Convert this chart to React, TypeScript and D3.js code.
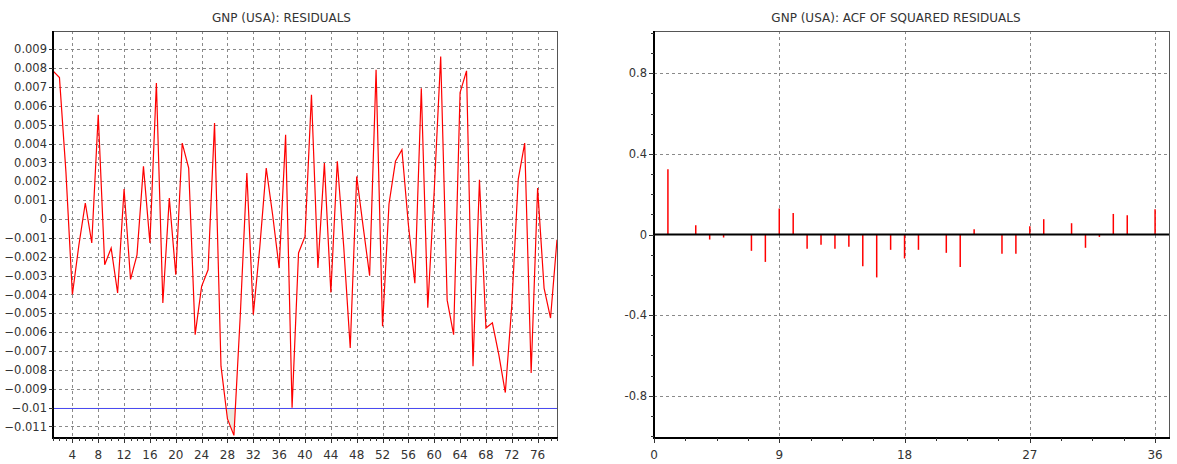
import React from 'react';
import * as d3 from 'd3';

// residuals, in units of 0.001, observations 1..79
const residuals = [
  7.86, 7.5, 2.5, -4.0, -1.4, 0.85, -1.27, 5.53, -2.42, -1.54,
  -3.92, 1.59, -3.2, -1.9, 2.79, -1.27, 7.21, -4.45, 1.11, -2.95,
  4.03, 2.7, -6.13, -3.57, -2.69, 5.09, -7.8, -10.6, -11.47, -5.0,
  2.44, -5.07, -1.5, 2.7, 0.2, -2.6, 4.47, -10.0, -1.8, -0.92,
  6.59, -2.6, 2.97, -3.9, 3.06, -1.5, -6.84, 2.26, -0.4, -3.0,
  7.92, -5.69, 0.8, 3.06, 3.67, -0.3, -3.4, 6.94, -4.7, 1.5,
  8.62, -4.3, -6.13, 6.7, 7.86, -7.8, 2.08, -5.78, -5.5, -7.2,
  -9.2, -4.6, 2.1, 4.03, -8.16, 1.64, -3.66, -5.25, -1.1,
];
const threshold = -0.01;

// ACF of squared residuals, lags 1..36
const acfValues = [
  0.324, 0, 0.046, -0.025, -0.015, 0, -0.081, -0.136, 0.129, 0.107,
  -0.071, -0.051, -0.071, -0.061, -0.157, -0.213, -0.076, -0.119, -0.076, 0,
  -0.091, -0.161, 0.026, 0, -0.096, -0.096, 0.041, 0.076, 0, 0.056,
  -0.066, -0.012, 0.102, 0.096, 0, 0.125,
];

const residTicksY = d3.range(-11, 10).map((d) => d / 1000);
const residTicksX = d3.range(4, 80, 4);
const acfTicksY = [-0.8, -0.4, 0, 0.4, 0.8];
const acfTicksX = [0, 9, 18, 27, 36];

const font = "'DejaVu Sans', sans-serif";
const gridColor = '#8a8a8a';
const textColor = '#333';

const fmtResid = (d: number) => (d === 0 ? '0' : d3.format('.3~f')(d));

function ResidualPanel() {
  const left = 53, right = 557, top = 31, bottom = 438;
  const data = residuals.map((v, i) => ({ t: i + 1, v: v / 1000 }));
  const x = d3.scaleLinear().domain([1, 79]).range([left, right]);
  const y = d3.scaleLinear().domain([-0.01161, 0.00997]).range([bottom, top]);

  const line = d3.line<{ t: number; v: number }>().x((d) => x(d.t)).y((d) => y(d.v));
  const area = d3
    .area<{ t: number; v: number }>()
    .x((d) => x(d.t))
    .y0(y(threshold))
    .y1((d) => y(d.v));
  const minor = d3.range(1, 80);

  return (
    <g>
      <text x={281.5} y={21.5} textAnchor="middle" fontSize={12} fill={textColor} fontFamily={font}>
        GNP (USA): RESIDUALS
      </text>
      <defs>
        <clipPath id="below">
          <rect x={left} y={y(threshold)} width={right - left} height={bottom - y(threshold)} />
        </clipPath>
        <clipPath id="plotL">
          <rect x={left} y={top} width={right - left} height={bottom - top} />
        </clipPath>
      </defs>
      {residTicksY.map((t) => (
        <line key={'gy' + t} x1={left} x2={right} y1={Math.round(y(t)) + 0.5} y2={Math.round(y(t)) + 0.5}
          stroke={gridColor} strokeDasharray="3,3" />
      ))}
      {residTicksX.map((t) => (
        <line key={'gx' + t} x1={Math.round(x(t)) + 0.5} x2={Math.round(x(t)) + 0.5} y1={top} y2={bottom}
          stroke={gridColor} strokeDasharray="3,3" />
      ))}
      <path d={area(data) || ''} fill="#ebe8dc" clipPath="url(#below)" />
      <line x1={left} x2={right} y1={Math.round(y(threshold)) + 0.5} y2={Math.round(y(threshold)) + 0.5}
        stroke="#4a4af0" strokeWidth={1.2} />
      <path d={line(data) || ''} fill="none" stroke="#ff0000" strokeWidth={1.2} clipPath="url(#plotL)" />
      {/* frame */}
      <line x1={left} x2={right} y1={top + 0.5} y2={top + 0.5} stroke="#555" />
      <line x1={right + 0.5} x2={right + 0.5} y1={top} y2={bottom} stroke="#555" />
      <line x1={left} x2={left} y1={top} y2={bottom + 1} stroke="#000" strokeWidth={2} />
      <line x1={left - 1} x2={right + 1} y1={bottom} y2={bottom} stroke="#000" strokeWidth={2} />
      {residTicksY.map((t) => (
        <g key={'ty' + t}>
          <line x1={left - 4} x2={left} y1={Math.round(y(t)) + 0.5} y2={Math.round(y(t)) + 0.5} stroke="#333" />
          <text x={47} y={y(t)} dy="0.36em" textAnchor="end" fontSize={11.5} fill={textColor} fontFamily={font}>
            {fmtResid(t)}
          </text>
        </g>
      ))}
      {minor.map((t) => (
        <line key={'mx' + t} x1={Math.round(x(t)) + 0.5} x2={Math.round(x(t)) + 0.5} y1={bottom}
          y2={bottom + (t % 4 === 0 ? 5 : 3)} stroke="#333" />
      ))}
      {residTicksX.map((t) => (
        <text key={'lx' + t} x={x(t)} y={459} textAnchor="middle" fontSize={12} fill={textColor} fontFamily={font}>
          {t}
        </text>
      ))}
    </g>
  );
}

function AcfPanel() {
  const left = 654, right = 1169, top = 31, bottom = 438;
  const x = d3.scaleLinear().domain([0, 37]).range([left, right]);
  const y = d3.scaleLinear().domain([-1.01, 1.01]).range([bottom, top]);
  const minorX = d3.range(0, 37, 2.25);
  const minorY = d3.range(-10, 11).map((d) => d / 10);

  return (
    <g>
      <text x={896} y={21.5} textAnchor="middle" fontSize={12} fill={textColor} fontFamily={font}>
        GNP (USA): ACF OF SQUARED RESIDUALS
      </text>
      {acfTicksY.filter((t) => t !== 0).map((t) => (
        <line key={'gy' + t} x1={left} x2={right} y1={Math.round(y(t)) + 0.5} y2={Math.round(y(t)) + 0.5}
          stroke={gridColor} strokeDasharray="3,3" />
      ))}
      {acfTicksX.filter((t) => t !== 0).map((t) => (
        <line key={'gx' + t} x1={Math.round(x(t)) + 0.5} x2={Math.round(x(t)) + 0.5} y1={top} y2={bottom}
          stroke={gridColor} strokeDasharray="3,3" />
      ))}
      {acfValues.map((v, i) => (
        <line key={'b' + i} x1={x(i + 1)} x2={x(i + 1)} y1={y(0)} y2={y(v)} stroke="#ff0000" strokeWidth={1.5} />
      ))}
      <line x1={left} x2={right} y1={y(0)} y2={y(0)} stroke="#000" strokeWidth={2} />
      {/* frame */}
      <line x1={left} x2={right} y1={top + 0.5} y2={top + 0.5} stroke="#555" />
      <line x1={right + 0.5} x2={right + 0.5} y1={top} y2={bottom} stroke="#555" />
      <line x1={left} x2={left} y1={top} y2={bottom + 1} stroke="#000" strokeWidth={2} />
      <line x1={left - 1} x2={right + 1} y1={bottom} y2={bottom} stroke="#000" strokeWidth={2} />
      {minorY.map((t) => (
        <line key={'my' + t} x1={left - (acfTicksY.includes(t) ? 5 : 3)} x2={left}
          y1={Math.round(y(t)) + 0.5} y2={Math.round(y(t)) + 0.5} stroke="#333" />
      ))}
      {acfTicksY.map((t) => (
        <text key={'ly' + t} x={647} y={y(t)} dy="0.36em" textAnchor="end" fontSize={11.5} fill={textColor} fontFamily={font}>
          {t}
        </text>
      ))}
      {minorX.map((t) => (
        <line key={'mx' + t} x1={Math.round(x(t)) + 0.5} x2={Math.round(x(t)) + 0.5} y1={bottom}
          y2={bottom + (t % 9 === 0 ? 5 : 3)} stroke="#333" />
      ))}
      {acfTicksX.map((t) => (
        <text key={'lx' + t} x={x(t)} y={459} textAnchor="middle" fontSize={12} fill={textColor} fontFamily={font}>
          {t}
        </text>
      ))}
    </g>
  );
}

export default function App() {
  return (
    <svg width={1177} height={464} style={{ position: 'absolute', left: 0, top: 0, background: '#fff' }}>
      <ResidualPanel />
      <AcfPanel />
    </svg>
  );
}
